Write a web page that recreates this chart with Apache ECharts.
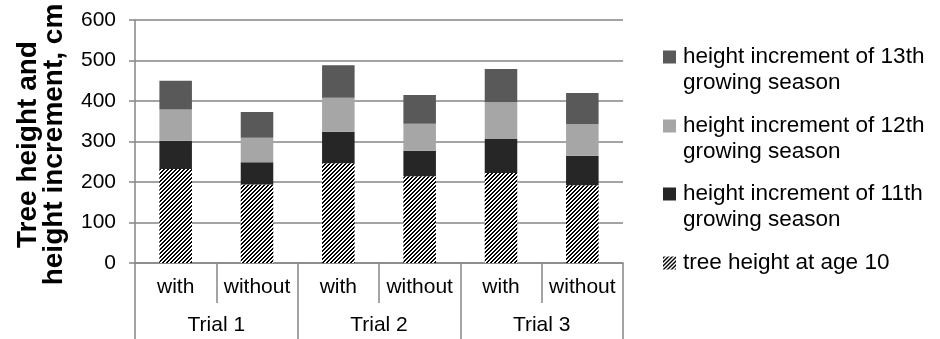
<!DOCTYPE html>
<html><head><meta charset="utf-8">
<script src="https://cdn.jsdelivr.net/npm/echarts@6/dist/echarts.min.js"></script>
<style>html,body{margin:0;padding:0;background:#fff}#chart{width:940px;height:339px}</style>
</head><body><div id="chart"></div>
<script>
// Categories: treatment within each trial
const treatments = ['with', 'without', 'with', 'without', 'with', 'without'];
const trials = ['Trial 1', 'Trial 2', 'Trial 3'];

// Stacked components, cm
const heightAge10 = [232, 194, 246, 214, 222, 192];
const inc11 = [70, 55, 78, 63, 84, 73];
const inc12 = [77, 60, 84, 67, 91, 78];
const inc13 = [71, 64, 80, 71, 82, 77];

const seriesNames = [
  'tree height at age 10',
  'height increment of 11th growing season',
  'height increment of 12th growing season',
  'height increment of 13th growing season'
];

const yMin = 0, yMax = 600, yStep = 100;

const FONT = 'Liberation Sans, Arial, sans-serif';
const GRAY = '#868686';

// Upward diagonal hatch fill
function hatchCanvas() {
  const c = document.createElement('canvas');
  c.width = 8; c.height = 8;
  const ctx = c.getContext('2d');
  const img = ctx.createImageData(8, 8);
  for (let y = 0; y < 8; y++) {
    for (let x = 0; x < 8; x++) {
      const i = (y * 8 + x) * 4;
      const on = ((x + y) % 4) < 2;
      const v = on ? 0 : 255;
      img.data[i] = v; img.data[i + 1] = v; img.data[i + 2] = v; img.data[i + 3] = 255;
    }
  }
  ctx.putImageData(img, 0, 0);
  return c;
}
const hatch = { image: hatchCanvas(), repeat: 'repeat' };

const colors = [hatch, '#262626', '#a6a6a6', '#595959'];
const values = [heightAge10, inc11, inc12, inc13];

// Two-line entries get an empty leading line so the swatch sits on the first line
function legendLabel(name) {
  if (name.indexOf('growing season') >= 0) {
    return '\n' + name.replace(' growing season', '\ngrowing season');
  }
  return name;
}

// one legend block per entry, top entry first
const legendTops = [18, 87, 155, 250];
const legendOrder = [3, 2, 1, 0];
const legends = legendOrder.map((si, k) => ({
  data: [seriesNames[si]],
  left: 663,
  top: legendTops[k],
  padding: 0,
  orient: 'vertical',
  icon: 'rect',
  itemWidth: 13,
  itemHeight: 13,
  itemGap: 0,
  selectedMode: false,
  formatter: legendLabel,
  textStyle: { fontFamily: FONT, fontSize: 22.5, color: '#000', lineHeight: 26, padding: [0, 0, 0, 2] }
}));

const chart = echarts.init(document.getElementById('chart'), null, { renderer: 'canvas' });
chart.setOption({
  animation: false,
  backgroundColor: '#fff',
  grid: { left: 135, right: 317, top: 20, bottom: 76, containLabel: false, outerBoundsMode: 'none' },
  legend: legends,
  xAxis: [
    {
      type: 'category',
      data: treatments,
      position: 'bottom',
      axisLine: { show: true, lineStyle: { color: GRAY, width: 1.5 } },
      axisTick: { show: true, interval: 0, length: 40, lineStyle: { color: GRAY, width: 1.5 } },
      axisLabel: { interval: 0, margin: 14, fontFamily: FONT, fontSize: 21, color: '#000' }
    },
    {
      type: 'category',
      data: trials,
      position: 'bottom',
      axisLine: { show: false },
      axisTick: { show: true, interval: 0, length: 78, lineStyle: { color: GRAY, width: 1.5 } },
      axisLabel: { interval: 0, margin: 52, fontFamily: FONT, fontSize: 21, color: '#000' },
      splitLine: { show: false }
    }
  ],
  yAxis: {
    type: 'value',
    min: yMin, max: yMax, interval: yStep,
    name: 'Tree height and\nheight increment, cm',
    nameLocation: 'middle',
    nameRotate: 90,
    nameGap: 68,
    nameTextStyle: { fontFamily: FONT, fontSize: 28, fontWeight: 'bold', color: '#000', lineHeight: 26, padding: [0, 6, 0, 0] },
    axisLine: { show: true, lineStyle: { color: GRAY, width: 1.5 } },
    axisTick: { show: true, length: 6, lineStyle: { color: GRAY, width: 1.5 } },
    axisLabel: { margin: 19, fontFamily: FONT, fontSize: 21, color: '#000' },
    splitLine: { show: true, lineStyle: { color: GRAY, width: 1.5 } }
  },
  series: values.map((v, i) => ({
    name: seriesNames[i],
    type: 'bar',
    stack: 'total',
    xAxisIndex: 0,
    barCategoryGap: '60%',
    data: v,
    itemStyle: { color: colors[i] }
  }))
});
</script>
</body></html>
